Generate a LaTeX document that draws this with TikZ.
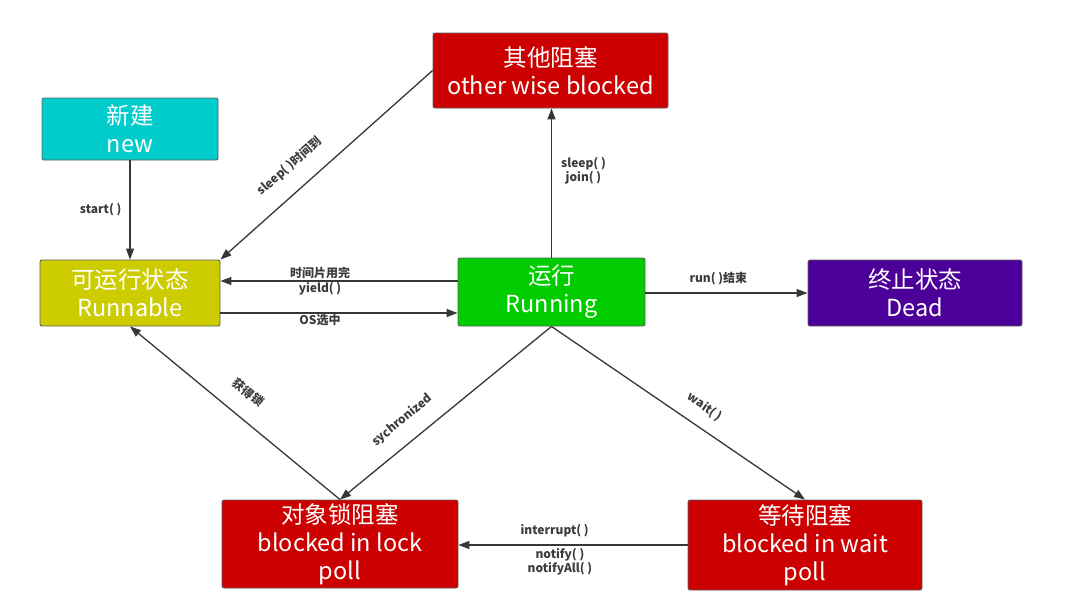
\documentclass[tikz,border=0pt]{standalone}
\usepackage{fontspec}
\newfontfamily\cjk{Noto Sans CJK SC}
\usetikzlibrary{arrows.meta}
\definecolor{cyanbox}{RGB}{0,204,204}
\definecolor{redbox}{RGB}{204,0,0}
\definecolor{olivebox}{RGB}{204,204,0}
\definecolor{greenbox}{RGB}{0,204,0}
\definecolor{purplebox}{RGB}{76,0,153}
\definecolor{edgegray}{RGB}{55,55,55}
\definecolor{labelgray}{RGB}{60,60,60}
\tikzset{
  statebox/.style={draw=edgegray!80, line width=0.9pt, rounded corners=2pt, text=white,
    align=center, inner sep=0pt, font=\cjk\fontsize{23.5}{28}\selectfont},
  arr/.style={draw=edgegray, line width=1.3pt, -{Triangle[length=11pt,width=8pt]}},
  lbl/.style={text=labelgray, font=\cjk\bfseries\fontsize{12}{14}\selectfont, align=center, inner sep=1pt}
}
\begin{document}
\begin{tikzpicture}[x=1pt,y=-1pt]
\useasboundingbox[fill=white] (0,0) rectangle (1073,614);
\node[statebox, fill=cyanbox, minimum width=176pt, minimum height=62pt] (new) at (130,129) {新建\\new};
\node[statebox, fill=redbox, minimum width=235pt, minimum height=75pt] (other) at (550.5,70.5) {其他阻塞\\other wise blocked};
\node[statebox, fill=olivebox, minimum width=180pt, minimum height=66pt] (runnable) at (130,293) {可运行状态\\Runnable};
\node[statebox, fill=greenbox, minimum width=187pt, minimum height=68pt] (running) at (551.5,292) {运行\\Running};
\node[statebox, fill=purplebox, minimum width=214pt, minimum height=66pt] (dead) at (915,293) {终止状态\\Dead};
\node[statebox, fill=redbox, minimum width=236pt, minimum height=88pt] (lock) at (340,544) {对象锁阻塞\\blocked in lock\\poll};
\node[statebox, fill=redbox, minimum width=234pt, minimum height=90pt] (wait) at (805,545) {等待阻塞\\blocked in wait\\poll};

\draw[arr] (new.south) -- node[lbl, left=7pt] {start( )} (runnable.north);
\draw[arr] (other.west) -- node[lbl, pos=0.6, sloped, above=16pt] {sleep( )时间到} (runnable.north east);
\draw[arr] (running.north) -- node[lbl, right=8pt, pos=0.58] {sleep( )\\join( )} (other.south -| running.north);
\draw[arr] (running.west |- 0,281) -- node[lbl, pos=0.58, above=1pt] {时间片用完} node[lbl, pos=0.58, below=0pt] {yield( )} (runnable.east |- 0,281);
\draw[arr] (runnable.east |- 0,313) -- node[lbl, pos=0.42, below=0pt] {OS选中} (running.west |- 0,313);
\draw[arr] (running.east |- 0,293) -- node[lbl, pos=0.45, above=6pt] {run( )结束} (dead.west |- 0,293);
\draw[arr] (running.south) -- node[lbl, pos=0.64, sloped, above=14pt] {sychronized} (lock.north);
\draw[arr] (lock.north) -- node[lbl, pos=0.51, sloped, above=17pt] {获得锁} (runnable.south);
\draw[arr] (running.south) -- node[lbl, pos=0.56, sloped, above=12pt] {wait( )} (wait.north);
\draw[arr] (wait.west) -- node[lbl, pos=0.58, above=6pt] {interrupt( )} node[lbl, pos=0.557, below=2pt] {notify( )\\notifyAll( )} (lock.east |- wait.west);
\end{tikzpicture}
\end{document}
